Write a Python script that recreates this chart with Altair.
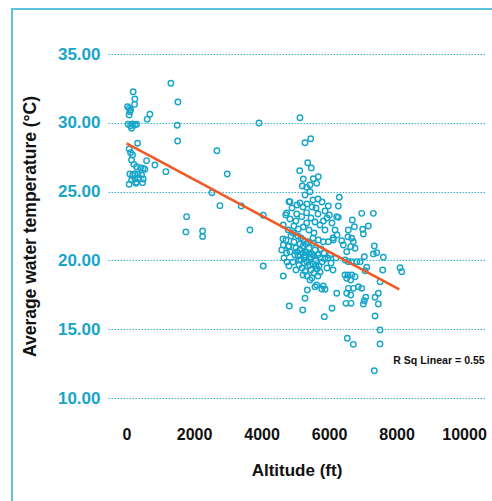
import altair as alt
import pandas as pd

# ---- data ----
alt_low = [1313, 196, 246, 30, 77, 119, 98, 237, 691, 611, 77, 47, 119, 178, 246, 296, 148, 326, 77, 119,
           178, 148, 593, 839, 216, 296, 415, 492, 543, 1165, 98, 178, 246, 344, 445, 148, 246, 344, 492, 296,
           77, 276, 474]
temp_low = [32.87, 32.26, 31.73, 31.17, 31.05, 30.93, 30.81, 31.34, 30.62, 30.25, 30.57, 29.89, 29.79, 29.91, 29.84, 29.89, 29.60, 28.51, 28.10, 27.83,
            27.66, 27.30, 27.25, 26.93, 26.98, 26.81, 26.74, 26.69, 26.62, 26.45, 26.28, 26.19, 26.30, 26.26, 26.21, 25.84, 25.92, 25.97, 25.92, 25.68,
            25.53, 25.60, 25.65]

alt_mid = [1521, 1500, 1512, 2677, 2983, 3923, 2529, 2766, 3398, 4050, 1779, 1758, 2253, 2253, 3656, 4050, 4744, 4812]
temp_mid = [31.51, 29.82, 28.68, 27.97, 26.28, 29.99, 24.92, 23.98, 23.95, 23.28, 23.18, 22.07, 22.14, 21.74, 22.21, 19.59, 23.45, 24.27]

alt_dense = [5138, 5287, 5456, 5367, 5473, 5129, 5236, 5533, 5681, 5633, 5207, 5337, 5435, 5287, 5435, 4842, 5977, 5524, 5672, 5791,
             5138, 5227, 5346, 5494, 5040, 5189, 5337, 4714, 6007, 6226, 4643, 4792, 4940, 5088, 5236, 5337, 5583, 5731, 5829, 5939,
             5672, 5464, 5019, 4842, 4643, 4792, 4596, 4744, 4842, 4664, 4753, 4634, 4723, 5236, 5384, 5533, 5681, 5829, 5977, 6126,
             5079, 4962,
             5019, 5138, 5227, 5316, 5405, 5494, 5583, 5672, 5761, 5850, 5079, 5168, 5257, 5346, 5435, 5524, 5613, 5702, 5791, 5880,
             5109, 5198, 5287, 5375, 5464, 5553, 5642, 5731, 5287, 5464, 5316, 5138, 4990, 4930, 5969, 6058, 5939, 6117, 6028, 6206,
             5346, 5494, 4643,
             5435, 5633, 5829, 5782, 5583, 5355, 5287, 4821, 5219, 5859, 6087, 5880,
             4902, 5050, 5613, 5880, 4960, 5405, 5553, 5880, 4872, 5168, 5524, 5050, 5227, 5405, 5553, 5731, 5109, 5257, 5435, 5613,
             5227, 5672, 5019, 4812, 4812]
temp_dense = [30.37, 28.55, 28.84, 27.10, 26.72, 26.52, 25.92, 25.94, 26.08, 25.60, 25.41, 25.31, 25.48, 24.75, 24.99, 24.27, 23.95, 24.39, 24.46, 24.24,
              24.17, 23.88, 24.10, 23.88, 23.37, 23.18, 23.47, 23.30, 23.30, 23.18, 22.57, 22.21, 21.99, 22.28, 22.43, 22.72, 22.79, 22.57, 22.86, 23.08,
              23.37, 23.08, 22.86, 23.01, 21.12, 21.00, 20.76, 20.54, 20.63, 20.18, 19.88, 21.56, 21.48, 21.48, 21.36, 21.24, 21.48, 21.36, 21.36, 21.48,
              21.77, 21.34,
              20.90, 20.76, 21.05, 20.61, 20.90, 20.47, 20.76, 20.39, 20.83, 20.54, 20.32, 20.03, 20.25, 19.88, 20.10, 19.74, 20.03, 19.59, 19.88, 20.10,
              19.67, 19.45, 19.23, 19.59, 19.30, 19.09, 19.38, 19.16, 20.39, 20.25, 21.19, 21.19, 20.39, 19.88, 20.18, 19.81, 19.45, 19.30, 20.39, 20.18,
              18.87, 18.72, 18.87,
              18.58, 18.21, 18.14, 17.92, 18.09, 17.85, 17.25, 16.69, 16.40, 15.91, 16.52, 17.90,
              23.81, 24.03, 23.81, 23.59, 22.50, 22.21, 21.99, 22.21, 21.77, 21.63, 21.63, 20.61, 20.54, 20.47, 20.32, 20.18, 20.03, 19.81, 19.67, 19.59,
              18.94, 18.87, 19.30, 19.59, 21.05]

alt_high = [6303, 6274, 6274, 6968, 7312, 6689, 6748, 6570, 6997, 7015, 7163, 6561, 6671, 6719, 6375, 6422, 6641, 6769, 6523, 7341,
            7413, 7312, 7608, 7045, 6473, 6571, 6671, 6820, 6917, 7116, 7066, 7590, 8103, 8154, 6473, 6561, 6671, 6769, 6523, 6641,
            7510, 6867, 6968, 6571, 6719, 6523, 6641, 6226, 7460, 7362, 7086, 7045, 6502, 6650, 7015, 7460, 7362, 7510, 6541, 6719,
            7510, 7341, 6087, 6176, 6236, 6117]
temp_high = [24.59, 23.95, 23.13, 23.42, 23.42, 22.94, 22.45, 22.21, 22.26, 21.92, 22.50, 21.72, 21.61, 21.36, 21.43, 21.12, 21.00, 20.88, 20.63, 21.05,
             20.56, 20.47, 20.23, 20.27, 20.03, 19.91, 19.91, 19.91, 19.91, 19.50, 19.25, 19.30, 19.47, 19.18, 18.94, 18.94, 18.94, 18.82, 18.70, 18.58,
             18.45, 18.09, 17.97, 17.97, 17.97, 17.61, 17.49, 17.61, 17.61, 17.32, 17.32, 17.07, 16.88, 16.88, 16.83, 16.83, 15.96, 14.94, 14.34, 13.90,
             13.93, 11.98, 22.72, 22.21, 21.85, 21.63]

fit_alt = [0, 8080]
fit_temp = [28.5, 17.9]

x_ticks = [0, 2000, 4000, 6000, 8000, 10000]
y_ticks = [10, 15, 20, 25, 30, 35]
r2_label = "R Sq Linear = 0.55"

altitude = alt_low + alt_mid + alt_dense + alt_high
temperature = temp_low + temp_mid + temp_dense + temp_high
points = pd.DataFrame({"alt": altitude, "temp": temperature})
fit = pd.DataFrame({"alt": fit_alt, "temp": fit_temp})

CYAN = "#17a5c9"
FONT = "Liberation Sans"

xscale = alt.Scale(domain=[-550, 10620], nice=False, zero=False)
yscale = alt.Scale(domain=[10, 35], nice=False, zero=False)

xaxis = alt.Axis(values=x_ticks, format="d", grid=False, domain=False, ticks=False,
                 labelPadding=28, labelFontSize=16, labelFontWeight="bold", labelColor="#111111",
                 labelFont=FONT, title="Altitude (ft)", titleFont=FONT, titleFontSize=17,
                 titleFontWeight="bold", titleColor="#111111", titlePadding=20)
yaxis = alt.Axis(values=y_ticks, format=".2f", grid=True, gridColor="#36b3d4", gridDash=[1.5, 1.5],
                 gridWidth=1, domain=False, ticks=False, labelPadding=8, labelFontSize=17,
                 labelFontWeight="bold", labelColor=CYAN, labelFont=FONT,
                 title="Average water temperature (°C)", titleFont=FONT, titleFontSize=17.5,
                 titleFontWeight="bold", titleColor="#111111", titleX=-78, titleBaseline="middle")

pts = alt.Chart(points).mark_point(shape="circle", filled=False, color=CYAN, size=30,
                                   strokeWidth=1.4, opacity=1).encode(
    x=alt.X("alt:Q", scale=xscale, axis=xaxis),
    y=alt.Y("temp:Q", scale=yscale, axis=yaxis),
)

line = alt.Chart(fit).mark_line(color="#f05a24", strokeWidth=2.6).encode(
    x=alt.X("alt:Q", scale=xscale),
    y=alt.Y("temp:Q", scale=yscale),
)

label = alt.Chart(pd.DataFrame({"alt": [7900], "temp": [12.47], "t": [r2_label]})).mark_text(
    align="left", baseline="alphabetic", font=FONT, fontSize=10.6, fontWeight="bold", color="#111111"
).encode(x=alt.X("alt:Q", scale=xscale), y=alt.Y("temp:Q", scale=yscale), text="t:N")

frame_left = alt.Chart(pd.DataFrame({"k": [0]})).mark_rule(color="#5cc3da", strokeWidth=2).encode(
    x=alt.value(-96), y=alt.value(-45), y2=alt.value(460))
frame_top = alt.Chart(pd.DataFrame({"k": [0]})).mark_rule(color="#5cc3da", strokeWidth=2).encode(
    x=alt.value(-97), x2=alt.value(400), y=alt.value(-45))

chart = alt.layer(pts, line, label, frame_left, frame_top).properties(
    width=377, height=344,
    autosize=alt.AutoSizeParams(type="none"),
    padding={"left": 108, "top": 54, "right": 7, "bottom": 103},
    background="white",
).configure_view(stroke=None)

chart.save("out.html", embed_options={"renderer": "svg", "actions": False})
